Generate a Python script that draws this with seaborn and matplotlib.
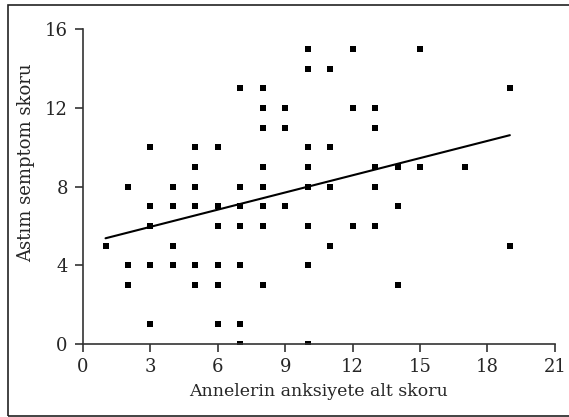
#!/usr/bin/env python3
# scatter of maternal anxiety vs asthma symptom score

import matplotlib
matplotlib.use('Agg')
import matplotlib.pyplot as plt
import pandas as pd
import seaborn as sns
from matplotlib.patches import Rectangle

# Data =========================================================================

anxiety = [
    1,
    2, 2, 2, 2, 2,
    3, 3, 3, 3, 3,
    4, 4, 4, 4,
    5, 5, 5, 5, 5, 5,
    6, 6, 6, 6, 6, 6,
    7, 7, 7, 7, 7, 7, 7,
    8, 8, 8, 8, 8, 8, 8, 8,
    9, 9, 9, 9, 9,
    10, 10, 10, 10, 10, 10, 10, 10, 10,
    11, 11, 11, 11, 11,
    12, 12, 12,
    13, 13, 13, 13, 13,
    14, 14, 14,
    15, 15,
    17,
    19, 19, 19,
]
symptom = [
    5,
    8, 8, 4, 4, 3,
    10, 7, 6, 4, 1,
    8, 7, 5, 4,
    10, 9, 8, 7, 4, 3,
    10, 7, 6, 4, 3, 1,
    13, 8, 7, 6, 4, 1, 0,
    13, 12, 11, 9, 8, 7, 6, 3,
    12, 12, 11, 7, 7,
    15, 14, 10, 9, 8, 6, 4, 4, 0,
    14, 14, 10, 8, 5,
    15, 12, 6,
    12, 11, 9, 8, 6,
    9, 7, 3,
    15, 9,
    9,
    13, 5, 5,
]

x_ticks = [0, 3, 6, 9, 12, 15, 18, 21]
y_ticks = [0, 4, 8, 12, 16]


def main():
    sns.set_style('ticks')
    plt.rcParams['font.family'] = ['DejaVu Serif']
    df = pd.DataFrame({'x': anxiety, 'y': symptom})

    fig = plt.figure(figsize=(5.69, 4.17), dpi=100)
    ax = fig.add_axes([0.146, 0.175, 0.829, 0.755])
    sns.regplot(
        x='x', y='y', data=df, ax=ax, ci=None, color='black',
        marker='s',
        scatter_kws={'s': 14, 'linewidths': 0, 'alpha': 1},
        line_kws={'linewidth': 1.5},
    )
    ax.set_xlim(0, 21)
    ax.set_ylim(0, 16)
    ax.set_xticks(x_ticks)
    ax.set_yticks(y_ticks)
    ax.tick_params(labelsize=13, length=6, width=1.2, color='#333333')
    ax.tick_params(axis='x', pad=4)
    ax.tick_params(axis='y', pad=5)
    for side in ('left', 'bottom'):
        ax.spines[side].set_linewidth(1.2)
        ax.spines[side].set_color('#333333')
    sns.despine(ax=ax)
    ax.set_xlabel('Annelerin anksiyete alt skoru', fontsize=12.5, labelpad=5)
    ax.set_ylabel('Astım semptom skoru', fontsize=13)
    ax.yaxis.set_label_coords(-0.102, 0.575)

    fig.patches.append(Rectangle(
        (0.014, 0.002), 1.05, 0.986, transform=fig.transFigure,
        fill=False, edgecolor='#222222', linewidth=1.2
    ))
    fig.savefig('out.png', dpi=100)


if __name__ == '__main__':
    main()
